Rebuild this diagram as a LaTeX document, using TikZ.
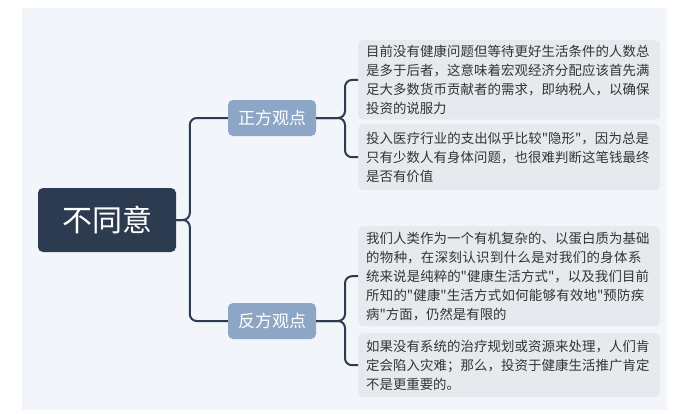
\documentclass[tikz,border=0pt]{standalone}
\usepackage{fontspec}
\newfontfamily\cjk{Noto Sans CJK SC}
\XeTeXlinebreaklocale "zh"
\XeTeXlinebreakskip=0pt plus 1pt
\begin{document}
\begin{tikzpicture}[x=1pt,y=-1pt,
leaf/.style={fill=leafc,rounded corners=5pt,text width=286pt,align=left,inner xsep=8pt,inner ysep=5pt,font=\cjk\fontsize{13.4}{19}\selectfont,text=txt,anchor=north west},
branch/.style={fill=brc,rounded corners=5pt,minimum width=88pt,minimum height=36pt,font=\cjk\fontsize{17}{20}\selectfont,text=white},
conn/.style={draw=navy,line width=2pt,rounded corners=7pt}]
\definecolor{navy}{HTML}{2C3B50}
\definecolor{brc}{HTML}{8EA6C6}
\definecolor{leafc}{HTML}{E6EAEF}
\definecolor{bg}{HTML}{F2F6FA}
\definecolor{txt}{HTML}{333333}
\useasboundingbox (0,0) rectangle (680,413);
\fill[white] (0,0) rectangle (680,413);
\fill[bg] (22,8) rectangle (667,410);
\node[fill=navy,rounded corners=5pt,minimum width=138pt,minimum height=64pt,font=\cjk\fontsize{30}{34}\selectfont,text=white] (root) at (107,220) {不同意};
\node[branch] (pro) at (272,118) {正方观点};
\node[branch] (con) at (272,321) {反方观点};
\node[leaf,minimum height=78pt] (l1) at (358,40) {目前没有健康问题但等待更好生活条件的人数总是多于后者，这意味着宏观经济分配应该首先满足大多数货币贡献者的需求，即纳税人，以确保投资的说服力};
\node[leaf,minimum height=66pt] (l2) at (358,124) {投入医疗行业的支出似乎比较"隐形"，因为总是只有少数人有身体问题，也很难判断这笔钱最终是否有价值};
\node[leaf,minimum height=100pt] (l3) at (358,226) {我们人类作为一个有机复杂的、以蛋白质为基础的物种，在深刻认识到什么是对我们的身体系统来说是纯粹的"健康生活方式"，以及我们目前所知的"健康"生活方式如何能够有效地"预防疾病"方面，仍然是有限的};
\node[leaf,minimum height=64pt] (l4) at (358,333) {如果没有系统的治疗规划或资源来处理，人们肯定会陷入灾难；那么，投资于健康生活推广肯定不是更重要的。};
\draw[conn] (pro.west) -- ++(-38,0) |- (root.east);
\draw[conn] (con.west) -- ++(-38,0) |- (root.east);
\draw[conn] (l1.west) -- ++(-13,0) |- (pro.east);
\draw[conn] (l2.west) -- ++(-13,0) |- (pro.east);
\draw[conn] (l3.west) -- ++(-13,0) |- (con.east);
\draw[conn] (l4.west) -- ++(-13,0) |- (con.east);
\end{tikzpicture}
\end{document}
